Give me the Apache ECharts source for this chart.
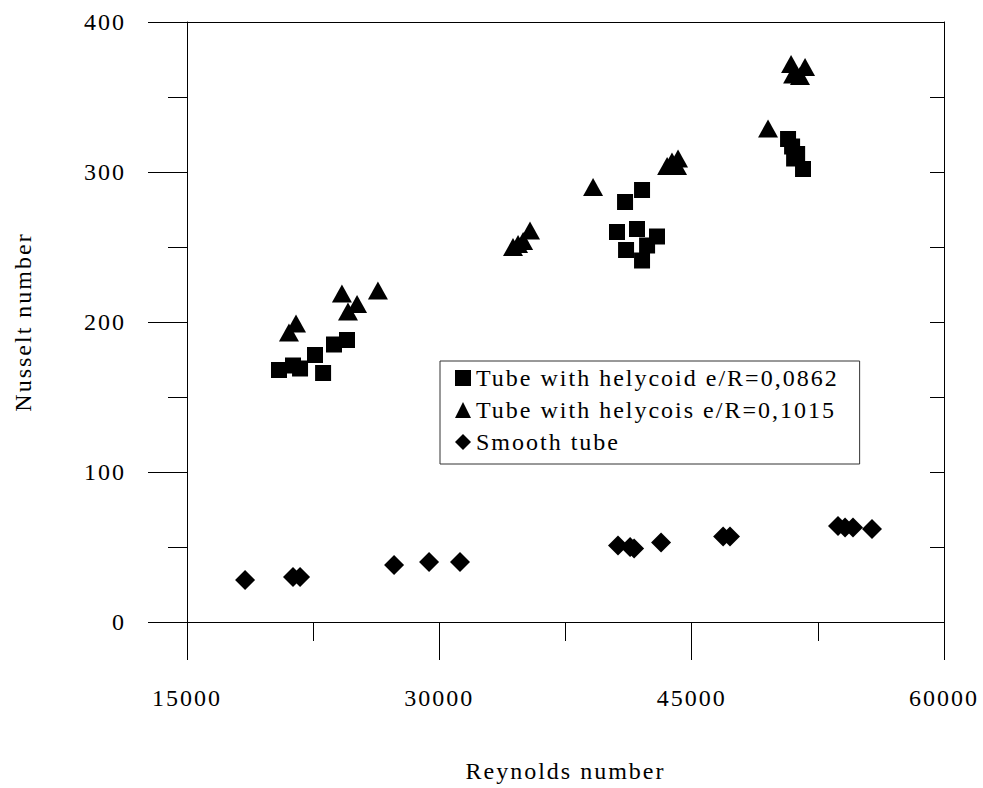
<!DOCTYPE html>
<html>
<head>
<meta charset="utf-8">
<script src="https://cdn.jsdelivr.net/npm/echarts@6.0.0/dist/echarts.min.js"></script>
<style>
  html, body { margin: 0; padding: 0; background: #fff; }
  #chart { width: 983px; height: 788px; }
  #chart text { letter-spacing: 2px; }
</style>
</head>
<body>
<div id="chart"></div>
<script>
// Tube with helycoid e/R=0,0862
const sqRe = [20470, 21300, 21720, 22610, 23090, 23740, 24510,
              41040, 42050, 40560, 41750, 42940, 42350, 41100, 42050,
              50730, 50970, 51270, 51090, 51620];
const sqNu = [168, 171, 169, 178, 166, 185, 188,
              280, 288, 260, 262, 257, 251, 248, 241,
              322, 317, 312, 309, 302];

// Tube with helycois e/R=0,1015
const triRe = [21060, 21480, 24210, 24570, 25110, 26350,
               34380, 34680, 34980, 35390, 39140,
               43830, 44190, 43540, 44130,
               49540, 50910, 51740, 51030, 51440];
const triNu = [193, 199, 219, 207, 212, 221,
               250, 252, 254, 261, 290,
               307, 309, 304, 304,
               329, 372, 370, 365, 364];

// Smooth tube
const diaRe = [18450, 21300, 21720, 27310, 29390, 31230,
               40620, 41340, 41580, 43180, 46870, 47280,
               53700, 54120, 54590, 55720];
const diaNu = [28, 30, 30, 38, 40, 40,
               51, 50, 49, 53, 57, 57,
               64, 63, 63, 62];

const seriesNames = ['Tube with helycoid e/R=0,0862', 'Tube with helycois e/R=0,1015', 'Smooth tube'];

function pairs(xs, ys) {
  return xs.map((x, i) => [x, ys[i]]);
}

var myChart = echarts.init(document.getElementById('chart'), null, { renderer: 'svg' });
var font = 'Liberation Serif';

var option = {
  backgroundColor: '#fff',
  animation: false,
  textStyle: { fontFamily: font, color: '#000' },
  grid: {
    left: 187,
    right: 39,
    top: 22,
    bottom: 161,
    show: false
  },
  legend: {
    data: seriesNames,
    orient: 'vertical',
    left: 440,
    top: 361,
    padding: [5, 79, 10, 15],
    itemGap: 8,
    itemWidth: 16,
    itemHeight: 16,
    borderColor: '#333',
    borderWidth: 1,
    backgroundColor: '#fff',
    textStyle: { fontFamily: font, fontSize: 24, color: '#000' }
  },
  xAxis: [
    {
      type: 'value',
      min: 15000,
      max: 60000,
      interval: 15000,
      name: 'Reynolds number',
      nameLocation: 'middle',
      nameGap: 137,
      nameTextStyle: { fontFamily: font, fontSize: 24, color: '#000' },
      axisLine: { show: true, onZero: false, lineStyle: { color: '#000', width: 1 } },
      axisTick: { show: true, inside: false, length: 38, lineStyle: { color: '#000' } },
      minorTick: { show: true, splitNumber: 2, length: 19, lineStyle: { color: '#000' } },
      axisLabel: {
        margin: 64, fontFamily: font, fontSize: 24, color: '#000',
        formatter: function (v) { return String(v); }
      },
      splitLine: { show: false }
    },
    {
      type: 'value',
      position: 'top',
      min: 15000,
      max: 60000,
      interval: 15000,
      axisLine: { show: true, onZero: false, lineStyle: { color: '#000', width: 1 } },
      axisTick: { show: false },
      axisLabel: { show: false },
      splitLine: { show: false }
    }
  ],
  yAxis: [
    {
      type: 'value',
      min: 0,
      max: 400,
      interval: 100,
      name: 'Nusselt number',
      nameLocation: 'middle',
      nameGap: 152,
      nameRotate: 90,
      nameTextStyle: { fontFamily: font, fontSize: 24, color: '#000' },
      axisLine: { show: true, onZero: false, lineStyle: { color: '#000', width: 1 } },
      axisTick: { show: true, inside: false, length: 39, lineStyle: { color: '#000' } },
      minorTick: { show: true, splitNumber: 2, length: 19, lineStyle: { color: '#000' } },
      axisLabel: {
        margin: 61, fontFamily: font, fontSize: 24, color: '#000',
        formatter: function (v) { return String(v); }
      },
      splitLine: { show: false }
    },
    {
      type: 'value',
      position: 'right',
      min: 0,
      max: 400,
      interval: 50,
      axisLine: { show: true, onZero: false, lineStyle: { color: '#000', width: 1 } },
      axisTick: { show: true, inside: true, length: 14, lineStyle: { color: '#000' } },
      axisLabel: { show: false },
      splitLine: { show: false }
    }
  ],
  series: [
    {
      name: seriesNames[0],
      type: 'scatter',
      symbol: 'rect',
      symbolSize: 16,
      itemStyle: { color: '#000', opacity: 1 },
      data: pairs(sqRe, sqNu)
    },
    {
      name: seriesNames[1],
      type: 'scatter',
      symbol: 'triangle',
      symbolSize: [20, 18],
      itemStyle: { color: '#000', opacity: 1 },
      data: pairs(triRe, triNu)
    },
    {
      name: seriesNames[2],
      type: 'scatter',
      symbol: 'diamond',
      symbolSize: [20, 20],
      itemStyle: { color: '#000', opacity: 1 },
      data: pairs(diaRe, diaNu)
    }
  ]
};

myChart.setOption(option);
</script>
</body>
</html>
